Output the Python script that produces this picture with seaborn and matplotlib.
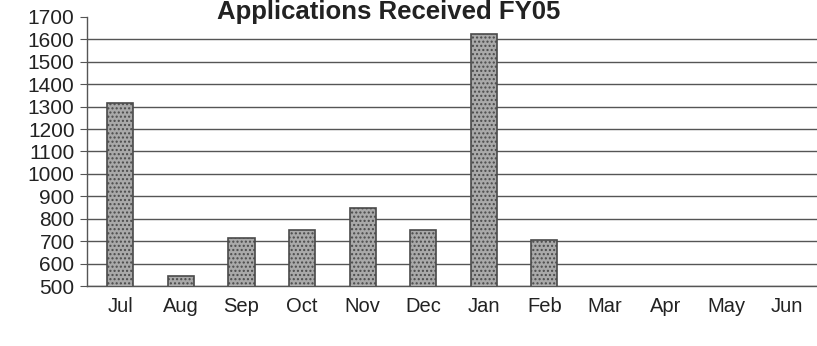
import numpy as np
import pandas as pd
import matplotlib
matplotlib.use("Agg")
import matplotlib.pyplot as plt
import seaborn as sns

months = ["Jul", "Aug", "Sep", "Oct", "Nov", "Dec", "Jan", "Feb", "Mar", "Apr", "May", "Jun"]
applications = [1315, 545, 715, 750, 850, 750, 1625, 705, np.nan, np.nan, np.nan, np.nan]
yticks = list(range(500, 1701, 100))
title = "Applications Received FY05"

sns.set_style("white")
plt.rcParams['font.family'] = ['Liberation Sans', 'DejaVu Sans']

df = pd.DataFrame({"month": months, "apps": applications})

fig = plt.figure(figsize=(8.17, 3.46), dpi=100)
ax = fig.add_axes([0.1065, 0.1734, 0.8935, 0.7776])

sns.barplot(data=df, x="month", y="apps", order=months, ax=ax,
            color="#a9a9a9", width=0.43, edgecolor="#4a4a4a", linewidth=1.2,
            hatch="....", saturation=1, errorbar=None, zorder=3)

ax.set_ylim(500, 1700)
ax.set_xlim(-0.55, 11.45)
ax.set_yticks(yticks)
ax.set_yticklabels([str(v) for v in yticks], fontsize=15, color="#222222")
ax.grid(axis="y", color="#555555", linewidth=1.0, zorder=0)
ax.set_axisbelow(True)
ax.get_ygridlines()[-1].set_visible(False)

ax.set_xticks(range(len(months)))
ax.set_xticklabels(months, fontsize=14.5, color="#222222")
ax.set_xticks(np.arange(-0.5, 12, 1), minor=True)
ax.tick_params(axis="x", which="major", length=0, pad=8)
ax.tick_params(axis="x", which="minor", length=6, width=0.8, color="#555555", direction="out")
ax.tick_params(axis="y", length=5, width=0.8, color="#555555", direction="out", pad=4, left=True)
ax.set_xlabel("")
ax.set_ylabel("")

for s in ["top", "right"]:
    ax.spines[s].set_visible(False)
for s in ["left", "bottom"]:
    ax.spines[s].set_color("#555555")
    ax.spines[s].set_linewidth(1.0)

fig.text(0.476, 0.945, title, ha="center", va="baseline", fontsize=18.5,
         fontweight="bold", color="#222222")

fig.savefig("out.png", dpi=100)
